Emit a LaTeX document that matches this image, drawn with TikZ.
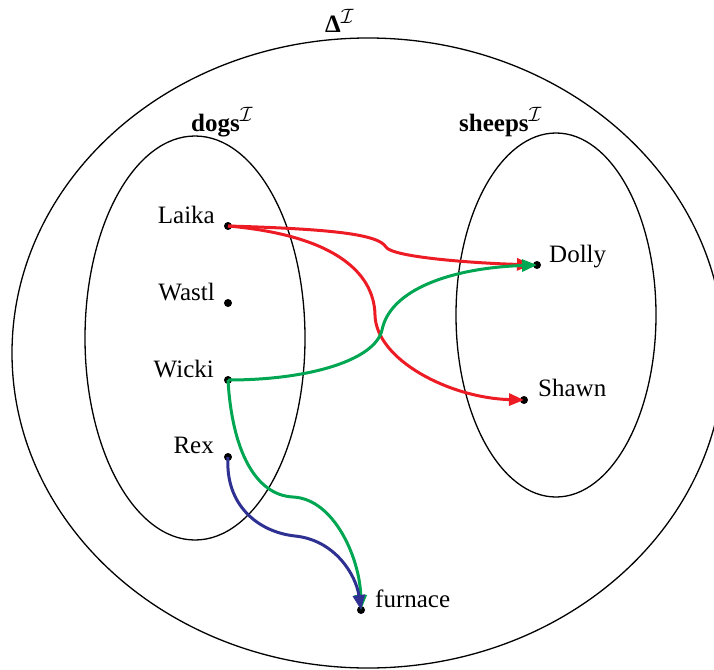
\documentclass[tikz,border=0pt]{standalone}
\usepackage{fontspec}
\setmainfont{Liberation Serif}
\DeclareMathSizes{25}{25}{20}{15}
\usetikzlibrary{arrows.meta}
\definecolor{cred}{RGB}{237,28,36}
\definecolor{cgreen}{RGB}{0,166,81}
\definecolor{cblue}{RGB}{46,49,146}
\begin{document}
\begin{tikzpicture}[x=1pt,y=-1pt,
  set/.style={draw=black,line width=1.3pt},
  dot/.style={circle,fill=black,inner sep=0pt,minimum size=8pt},
  lbl/.style={font=\fontsize{25}{30}\selectfont,inner sep=0pt},
  rel/.style={line width=3pt,-{Triangle[length=15pt,width=12pt]}},
]
\clip (0,0) rectangle (714,669);
% sets
\draw[set] (368,353) ellipse[x radius=356pt,y radius=315pt];
\draw[set] (195,338) ellipse[x radius=110pt,y radius=202pt];
\draw[set] (556,315) ellipse[x radius=100pt,y radius=182pt];
% titles
\node[lbl,anchor=base west] (delta) at (325,33) {\textbf{Δ}$^{\mathcal{I}}$};
\node[lbl,anchor=base west] (dogs) at (191,131) {\textbf{dogs}$^{\mathcal{I}}$};
\node[lbl,anchor=base west] (sheeps) at (459,131) {\textbf{sheeps}$^{\mathcal{I}}$};
% elements
\node[dot] (laika) at (228,226) {};
\node[dot] (wastl) at (228,303) {};
\node[dot] (wicki) at (228,380) {};
\node[dot] (rex) at (228,457) {};
\node[dot] (dolly) at (537,265) {};
\node[dot] (shawn) at (524,400) {};
\node[dot] (furnace) at (361,610) {};
\node[lbl,anchor=base east] (laikaL) at (215,223) {Laika};
\node[lbl,anchor=base east] (wastlL) at (215,300) {Wastl};
\node[lbl,anchor=base east] (wickiL) at (214,377) {Wicki};
\node[lbl,anchor=base east] (rexL) at (214,453) {Rex};
\node[lbl,anchor=base west] (dollyL) at (549,262) {Dolly};
\node[lbl,anchor=base west] (shawnL) at (538,396) {Shawn};
\node[lbl,anchor=base west] (furnaceL) at (375,607) {furnace};
% relations
\draw[rel,cred,shorten >=5pt] (laika.center) .. controls (330,229) and (378,234) .. (386,247) .. controls (392,257) and (470,263) .. (dolly.center);
\draw[rel,cred] (laika.center) .. controls (330,235) and (374,270) .. (375,315) .. controls (376,360) and (450,398) .. (shawn.center);
\draw[rel,cgreen] (wicki.center) .. controls (310,380) and (375,360) .. (382,330) .. controls (390,290) and (450,268) .. (dolly.center);
\draw[rel,cgreen] (wicki.center) .. controls (232,450) and (255,495) .. (293,497) .. controls (335,499) and (360,560) .. (furnace.center);
\draw[rel,cblue] (rex.center) .. controls (225,505) and (258,532) .. (295,536) .. controls (335,540) and (356,575) .. (furnace.center);
\end{tikzpicture}
\end{document}
